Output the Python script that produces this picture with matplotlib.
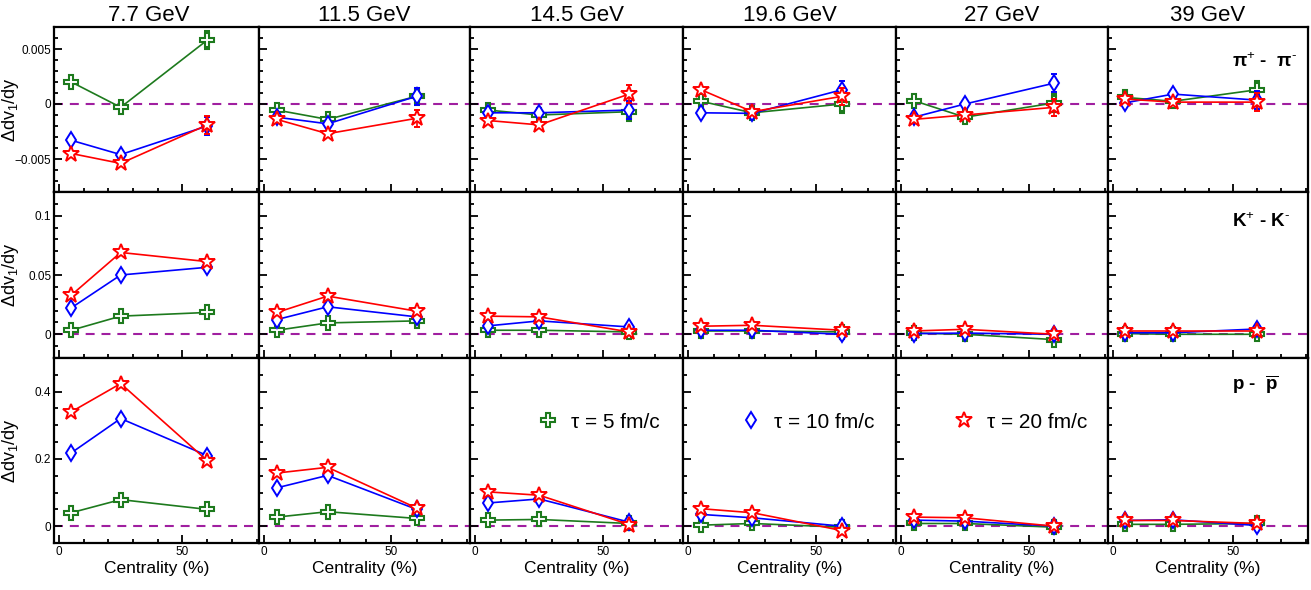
import numpy as np
import matplotlib
matplotlib.use("Agg")
import matplotlib.pyplot as plt
from matplotlib.lines import Line2D
from matplotlib.ticker import MultipleLocator

plt.rcParams['font.family'] = ['Liberation Sans', 'DejaVu Sans']
plt.rcParams['mathtext.fontset'] = 'custom'
plt.rcParams['mathtext.rm'] = 'Liberation Sans'
plt.rcParams['mathtext.it'] = 'Liberation Sans:italic'
plt.rcParams['mathtext.bf'] = 'Liberation Sans:bold'

# --- data ---
energies = ['7.7 GeV', '11.5 GeV', '14.5 GeV', '19.6 GeV', '27 GeV', '39 GeV']
centrality = [5, 25, 60]
tau_labels = ['\u03c4 = 5 fm/c', '\u03c4 = 10 fm/c', '\u03c4 = 20 fm/c']

# pi+ - pi-, one row of 3 centralities per energy
pion_tau5 = [[0.0020, -0.0003, 0.0058], [-0.00055, -0.0014, 0.0007], [-0.00055, -0.0010, -0.0007],
             [0.00025, -0.0008, 0.0], [0.0003, -0.0012, 0.0001], [0.0006, 0.00025, 0.0013]]
pion_tau10 = [[-0.0033, -0.0046, -0.0020], [-0.0012, -0.0018, 0.0007], [-0.0008, -0.0008, -0.00055],
              [-0.0008, -0.00085, 0.0013], [-0.0012, 0.0, 0.0019], [0.0001, 0.0009, 0.00035]]
pion_tau20 = [[-0.0045, -0.0054, -0.0019], [-0.0014, -0.0027, -0.0013], [-0.0015, -0.0019, 0.0009],
              [0.0013, -0.0007, 0.0007], [-0.0014, -0.0010, -0.0003], [0.00045, 0.00017, 0.00017]]
pion_err = [0.00015, 0.00015, 0.0008]

# K+ - K-
kaon_tau5 = [[0.0034, 0.0153, 0.0184], [0.0034, 0.0096, 0.0113], [0.0034, 0.0034, 0.0020],
             [0.0028, 0.0028, 0.0020], [0.0010, 0.0, -0.0045], [0.0006, 0.0, 0.0]]
kaon_tau10 = [[0.0223, 0.0500, 0.0565], [0.0124, 0.0232, 0.0147], [0.0071, 0.0113, 0.0062],
              [0.0034, 0.0034, 0.0], [0.0006, 0.0010, 0.0], [0.0013, 0.0013, 0.0045]]
kaon_tau20 = [[0.0330, 0.0690, 0.0613], [0.0184, 0.0322, 0.0195], [0.0153, 0.0147, 0.0020],
              [0.0068, 0.0076, 0.0034], [0.0028, 0.0042, 0.0], [0.0029, 0.0029, 0.0029]]
kaon_err = [0.0008, 0.0008, 0.0015]

# p - pbar
proton_tau5 = [[0.040, 0.079, 0.050], [0.027, 0.043, 0.023], [0.018, 0.020, 0.008],
               [0.003, 0.008, -0.003], [0.008, 0.008, -0.003], [0.0055, 0.0055, 0.008]]
proton_tau10 = [[0.218, 0.320, 0.210], [0.114, 0.151, 0.050], [0.069, 0.081, 0.012],
                [0.035, 0.025, 0.0], [0.018, 0.015, 0.0], [0.017, 0.019, 0.002]]
proton_tau20 = [[0.340, 0.424, 0.195], [0.158, 0.175, 0.054], [0.102, 0.092, 0.005],
                [0.052, 0.040, -0.013], [0.027, 0.025, 0.0], [0.017, 0.017, 0.008]]
proton_err = [0.003, 0.003, 0.005]

species_labels = ['\u03c0$^{+}$ -  \u03c0$^{\u2010}$',
                  'K$^{+}$ - K$^{\u2010}$',
                  r'p -  $\mathbf{\overline{p}}$']
ytick_values = [[-0.005, 0, 0.005], [0, 0.05, 0.1], [0, 0.2, 0.4]]
ytick_labels = [['\u22120.005', '0', '0.005'], ['0', '0.05', '0.1'], ['0', '0.2', '0.4']]

rows = [
    (pion_tau5, pion_tau10, pion_tau20, pion_err),
    (kaon_tau5, kaon_tau10, kaon_tau20, kaon_err),
    (proton_tau5, proton_tau10, proton_tau20, proton_err),
]
ylims = [(-0.008, 0.007), (-0.02, 0.12), (-0.05, 0.5)]
yminor = [0.001, 0.01, 0.05]

# --- styles ---
colors = ['#1d7a1d', '#0000ff', '#ff0000']
markers = ['P', 'd', '*']
msizes = [10, 8.5, 12]
mews = [1.5, 1.4, 1.4]
dash_color = '#a01fa0'

# panel geometry in pixels
W, H = 1311, 590
col_left = [54, 259, 470, 683, 896, 1108]
col_right = [259, 470, 683, 896, 1108, 1308]
row_top = [27, 192, 358]
row_bot = [192, 358, 543]

fig = plt.figure(figsize=(W / 100, H / 100), dpi=100)

for r in range(3):
    t5, t10, t20, err = rows[r]
    for c in range(6):
        ax = fig.add_axes([col_left[c] / W, 1 - row_bot[r] / H,
                           (col_right[c] - col_left[c]) / W, (row_bot[r] - row_top[r]) / H])
        ax.axhline(0, color=dash_color, lw=1.5, dashes=(4.3, 3.3), zorder=1)
        for k, series in enumerate([t5, t10, t20]):
            ax.errorbar(centrality, series[c], yerr=err, color=colors[k], lw=1.2,
                        marker=markers[k], ms=msizes[k], mfc='white', mec=colors[k],
                        mew=mews[k], capsize=2.5, elinewidth=1.2, zorder=3 + k)
        ax.set_xlim(-2, 81)
        ax.set_ylim(*ylims[r])
        ax.xaxis.set_major_locator(MultipleLocator(50))
        ax.xaxis.set_minor_locator(MultipleLocator(10))
        ax.set_yticks(ytick_values[r])
        ax.yaxis.set_minor_locator(MultipleLocator(yminor[r]))
        ax.tick_params(which='both', direction='in', width=1.3, labelsize=8.5, pad=2)
        ax.tick_params(which='major', length=6)
        ax.tick_params(which='minor', length=3)
        for s in ax.spines.values():
            s.set_linewidth(1.6)

        if c == 0:
            ax.set_yticklabels(ytick_labels[r])
            ax.set_ylabel('\u0394dv$_{1}$/dy', fontsize=13)
            ax.yaxis.set_label_coords(-0.16, 0.5)
        else:
            ax.set_yticklabels([])
        if r == 2:
            ax.set_xlabel('Centrality (%)', fontsize=12.5, labelpad=2)
        else:
            ax.set_xticklabels([])
        if r == 0:
            ax.set_title(energies[c], fontsize=16, pad=4, x=0.46 if c == 0 else 0.5)
        if c == 5:
            ax.text(0.62, [0.788, 0.82, 0.854][r], species_labels[r], transform=ax.transAxes,
                    ha='left', va='center', fontsize=13.5, fontweight='bold')
        if r == 2 and 2 <= c <= 4:
            k = c - 2
            h = Line2D([], [], ls='none', marker=markers[k], ms=msizes[k], mfc='white',
                       mec=colors[k], mew=mews[k])
            ax.legend([h], [tau_labels[k]], loc='center left',
                      bbox_to_anchor=([0.317, 0.27, 0.272][k], 0.654), frameon=False,
                      fontsize=15, handlelength=1.0, handletextpad=0.6,
                      borderpad=0, borderaxespad=0, numpoints=1)

fig.savefig('out.png', dpi=100)
